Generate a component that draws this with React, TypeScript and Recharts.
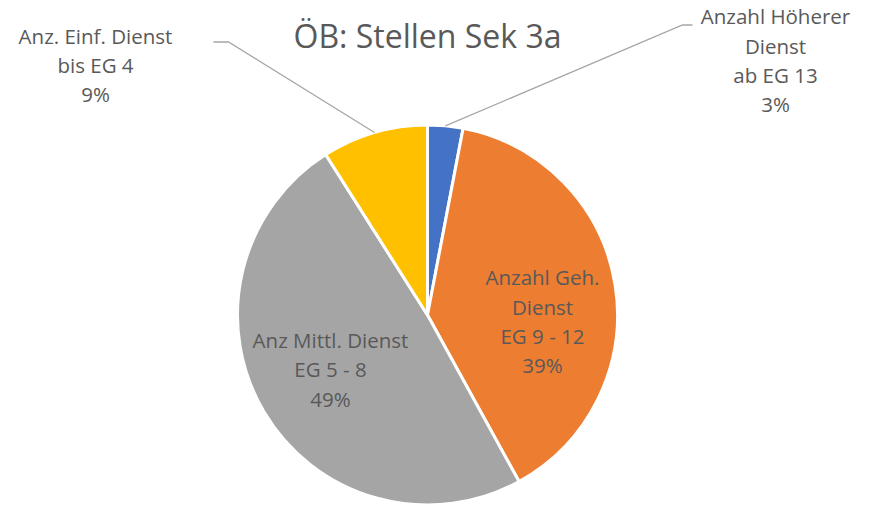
import React from 'react';
import { PieChart, Pie, Cell } from 'recharts';

const categories = [
    'Anzahl Höherer\nDienst\nab EG 13',
    'Anzahl Geh.\nDienst\nEG 9 - 12',
    'Anz Mittl. Dienst\nEG 5 - 8',
    'Anz. Einf. Dienst\nbis EG 4',
];
const shares = [3, 39, 49, 9];
const colors = ['#4472C4', '#ED7D31', '#A5A5A5', '#FFC000'];

// label placement relative to pie centre (Excel "best fit" look)
const labelLayout = [
    { dx: 348, dy: -254, elbow: [255, -290], end: [265, -290] },
    { dx: 115, dy: 7 },
    { dx: -97, dy: 55 },
    { dx: -332, dy: -249.5, elbow: [-199, -273], end: [-214, -273] },
];

const data = categories.map((name, i) => ({ name, value: shares[i] }));

const RADIAN = Math.PI / 180;
const FONT = '"Open Sans", Lato, sans-serif';
const FS = 20.5;
const LINE_H = 29.3;

const renderLabel = (props: any) => {
    const { cx, cy, midAngle, outerRadius, index, percent } = props;
    const cfg = labelLayout[index];
    const lines = [...categories[index].split('\n'), `${Math.round(percent * 100)}%`];
    const tx = cx + cfg.dx;
    const ty = cy + cfg.dy;
    let leader = null;
    if (cfg.elbow) {
        const sx = cx + outerRadius * Math.cos(-midAngle * RADIAN);
        const sy = cy + outerRadius * Math.sin(-midAngle * RADIAN);
        const points = `${sx},${sy} ${cx + cfg.elbow[0]},${cy + cfg.elbow[1]} ${cx + cfg.end[0]},${cy + cfg.end[1]}`;
        leader = <polyline points={points} fill="none" stroke="#A6A6A6" strokeWidth={1.3} />;
    }
    return (
        <g key={`lbl-${index}`}>
            {leader}
            {lines.map((ln, i) => (
                <text
                    key={i}
                    x={tx}
                    y={ty + (i - (lines.length - 1) / 2) * LINE_H + FS * 0.357}
                    textAnchor="middle"
                    fill="#595959"
                    fontSize={FS}
                    fontFamily={FONT}
                >
                    {ln}
                </text>
            ))}
        </g>
    );
};

export default function App() {
    return (
        <div style={{ position: 'absolute', left: 0, top: 0, width: 871, height: 506, background: '#fff' }}>
            <div
                style={{
                    position: 'absolute',
                    left: 0,
                    width: 855,
                    top: 14,
                    textAlign: 'center',
                    fontFamily: FONT,
                    fontSize: 32,
                    lineHeight: 'normal',
                    color: '#595959',
                }}
            >
                ÖB: Stellen Sek 3a
            </div>
            <PieChart width={871} height={506} margin={{ top: 0, right: 0, bottom: 0, left: 0 }}>
                <Pie
                    data={data}
                    dataKey="value"
                    nameKey="name"
                    cx={427.5}
                    cy={315}
                    outerRadius={190}
                    startAngle={90}
                    endAngle={-270}
                    stroke="#FFFFFF"
                    strokeWidth={3}
                    label={renderLabel}
                    labelLine={false}
                    isAnimationActive={false}
                >
                    {data.map((d, i) => (
                        <Cell key={d.name} fill={colors[i]} />
                    ))}
                </Pie>
            </PieChart>
        </div>
    );
}
